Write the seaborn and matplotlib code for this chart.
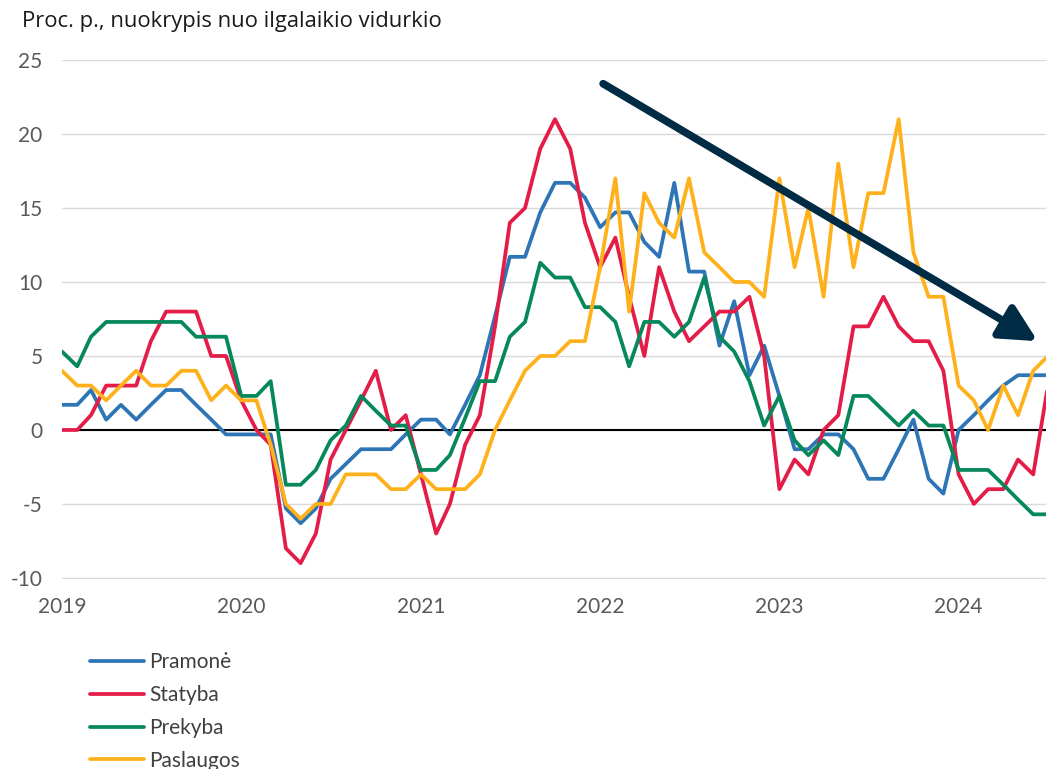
import pandas as pd
import seaborn as sns
import matplotlib.pyplot as plt
import matplotlib.dates as mdates

# monthly observations, 2019-01 .. 2024-07
months = pd.date_range('2019-01-01', periods=67, freq='MS')

pramone = [1.7, 1.7, 2.7, 0.7, 1.7, 0.7, 1.7, 2.7, 2.7, 1.7, 0.7, -0.3,
           -0.3, -0.3, -0.3, -5.3, -6.3, -5.3, -3.3, -2.3, -1.3, -1.3, -1.3, -0.3,
           0.7, 0.7, -0.3, 1.7, 3.7, 7.7, 11.7, 11.7, 14.7, 16.7, 16.7, 15.7,
           13.7, 14.7, 14.7, 12.7, 11.7, 16.7, 10.7, 10.7, 5.7, 8.7, 3.7, 5.7,
           2.3, -1.3, -1.3, -0.3, -0.3, -1.3, -3.3, -3.3, -1.3, 0.7, -3.3, -4.3,
           0.0, 1.0, 2.0, 3.0, 3.7, 3.7, 3.7]
statyba = [0, 0, 1, 3, 3, 3, 6, 8, 8, 8, 5, 5,
           2, 0, -1, -8, -9, -7, -2, 0, 2, 4, 0, 1,
           -3, -7, -5, -1, 1, 7, 14, 15, 19, 21, 19, 14,
           11, 13, 9, 5, 11, 8, 6, 7, 8, 8, 9, 5,
           -4, -2, -3, 0, 1, 7, 7, 9, 7, 6, 6, 4,
           -3, -5, -4, -4, -2, -3, 3]
prekyba = [5.3, 4.3, 6.3, 7.3, 7.3, 7.3, 7.3, 7.3, 7.3, 6.3, 6.3, 6.3,
           2.3, 2.3, 3.3, -3.7, -3.7, -2.7, -0.7, 0.3, 2.3, 1.3, 0.3, 0.3,
           -2.7, -2.7, -1.7, 0.8, 3.3, 3.3, 6.3, 7.3, 11.3, 10.3, 10.3, 8.3,
           8.3, 7.3, 4.3, 7.3, 7.3, 6.3, 7.3, 10.3, 6.3, 5.3, 3.3, 0.3,
           2.3, -0.7, -1.7, -0.7, -1.7, 2.3, 2.3, 1.3, 0.3, 1.3, 0.3, 0.3,
           -2.7, -2.7, -2.7, -3.7, -4.7, -5.7, -5.7]
paslaugos = [4, 3, 3, 2, 3, 4, 3, 3, 4, 4, 2, 3,
             2, 2, -1, -5, -6, -5, -5, -3, -3, -3, -4, -4,
             -3, -4, -4, -4, -3, 0, 2, 4, 5, 5, 6, 6,
             11, 17, 8, 16, 14, 13, 17, 12, 11, 10, 10, 9,
             17, 11, 15, 9, 18, 11, 16, 16, 21, 12, 9, 9,
             3, 2, 0, 3, 1, 4, 5]

series_names = ['Pramonė', 'Statyba', 'Prekyba', 'Paslaugos']
colors = ['#2E75B6', '#E31C48', '#06885A', '#FFB11B']
y_ticks = [-10, -5, 0, 5, 10, 15, 20, 25]
title = 'Proc. p., nuokrypis nuo ilgalaikio vidurkio'

df = pd.DataFrame({'Data': months, 'Pramonė': pramone, 'Statyba': statyba,
                   'Prekyba': prekyba, 'Paslaugos': paslaugos})
long_df = df.melt(id_vars='Data', var_name='Sektorius', value_name='Reikšmė')

sns.set_theme(style='white')
plt.rcParams['font.family'] = ['Lato', 'DejaVu Sans']
plt.rcParams['axes.unicode_minus'] = False

W, H = 1046, 769
fig = plt.figure(figsize=(W / 100, H / 100), dpi=100)
ax = fig.add_axes([62 / W, 1 - 579 / H, 1 - 62 / W, (579 - 60) / H])

ax.axhline(0, color='black', lw=1.5, zorder=1)
sns.lineplot(data=long_df, x='Data', y='Reikšmė', hue='Sektorius',
             hue_order=series_names, palette=dict(zip(series_names, colors)),
             linewidth=2.7, ax=ax, zorder=2)

# trend arrow
ax.annotate('', xy=(pd.Timestamp('2024-06-10'), 6.0),
            xytext=(pd.Timestamp('2022-01-07'), 23.4),
            arrowprops=dict(arrowstyle='-|>,head_length=0.55,head_width=0.28',
                            mutation_scale=40, lw=5.5, color='#002B45',
                            shrinkA=0, shrinkB=0),
            zorder=3)

ax.set_xlim(months[0], pd.Timestamp('2024-06-27'))
ax.set_ylim(-10.07, 25)
ax.set_yticks(y_ticks)
ax.xaxis.set_major_locator(mdates.YearLocator())
ax.xaxis.set_major_formatter(mdates.DateFormatter('%Y'))
ax.set_xlabel('')
ax.set_ylabel('')
ax.grid(False)
ax.yaxis.grid(True, color='#D9D9D9', lw=1)
sns.despine(ax=ax, left=True, bottom=True)
ax.tick_params(axis='x', length=0, pad=13, labelsize=15, colors='#595959')
ax.tick_params(axis='y', length=0, pad=14, labelsize=15, colors='#595959')

handles, labels = ax.get_legend_handles_labels()
ax.get_legend().remove()
fig.legend(handles, labels, loc='upper left', bbox_to_anchor=(90 / W, 1 - 652 / H),
           frameon=False, borderpad=0, borderaxespad=0, handlelength=2.6,
           handletextpad=0.25, labelspacing=0.62, prop={'size': 15},
           labelcolor='#404040')

fig.text(22 / W, 1 - 22 / H, title, fontsize=15.8, va='center', ha='left',
         color='#1A1A1A', family=['Open Sans', 'DejaVu Sans'])

fig.savefig('out.png', dpi=100)
